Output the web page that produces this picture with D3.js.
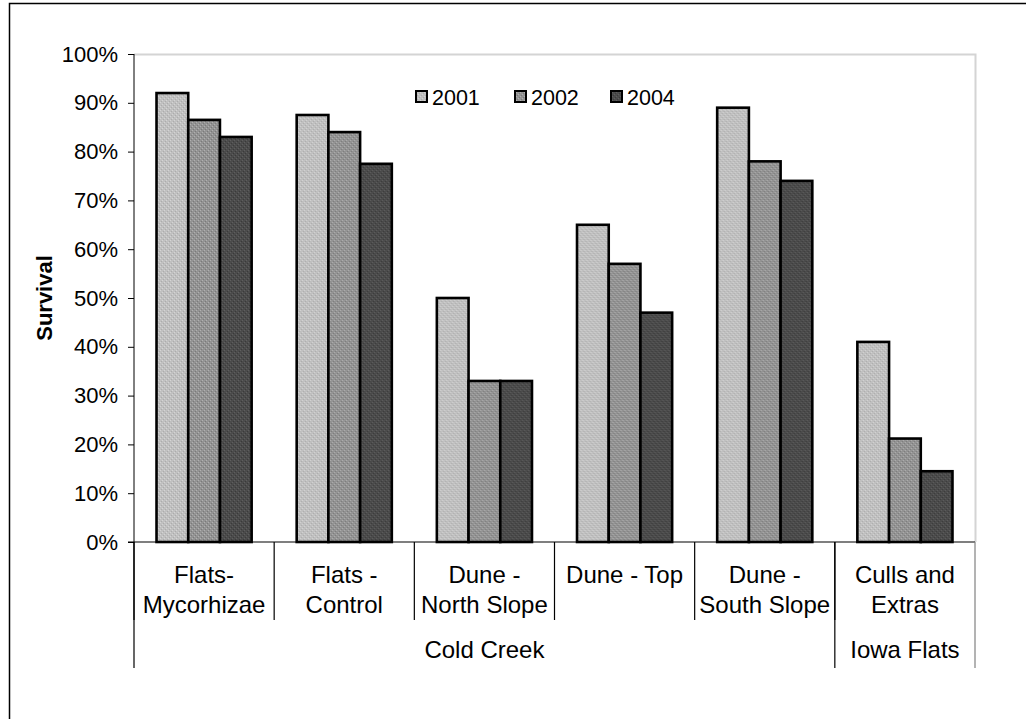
<!DOCTYPE html>
<html>
<head>
<meta charset="utf-8">
<script src="https://cdn.jsdelivr.net/npm/d3@7"></script>
<style>
  body { margin: 0; background: #fff; }
  svg { display: block; font-family: "Liberation Sans", Arial, sans-serif; }
</style>
</head>
<body>
<div id="container"></div>
<script>
// data
var categories = ["Flats-\nMycorhizae", "Flats -\nControl", "Dune -\nNorth Slope", "Dune - Top", "Dune -\nSouth Slope", "Culls and\nExtras"];
var years = ["2001", "2002", "2004"];
var survival2001 = [0.92, 0.875, 0.50, 0.65, 0.89, 0.41];
var survival2002 = [0.865, 0.84, 0.33, 0.57, 0.78, 0.212];
var survival2004 = [0.83, 0.775, 0.33, 0.47, 0.74, 0.145];
var sites = ["Cold Creek", "Iowa Flats"];
var siteSpan = [5, 1]; // number of categories under each site
var yTicks = [0, 0.1, 0.2, 0.3, 0.4, 0.5, 0.6, 0.7, 0.8, 0.9, 1.0];

var seriesValues = [survival2001, survival2002, survival2004];

var W = 1026, H = 719;
var plot = {left: 134, right: 975, top: 54, bottom: 542};

var svg = d3.select("#container").append("svg")
  .attr("width", W).attr("height", H);

// fill patterns (excel-like dotted greys)
var defs = svg.append("defs");
var fills = [
  {id: "p2001", base: "#c0c0c0", dot: "#d4d4d4", dot2: "#acacac"},
  {id: "p2002", base: "#939393", dot: "#b0b0b0", dot2: "#7a7a7a"},
  {id: "p2004", base: "#4b4b4b", dot: "#5e5e5e", dot2: "#3a3a3a"}
];
fills.forEach(function(f) {
  var p = defs.append("pattern").attr("id", f.id)
    .attr("patternUnits", "userSpaceOnUse").attr("width", 4).attr("height", 4);
  p.append("rect").attr("width", 4).attr("height", 4).attr("fill", f.base);
  p.append("rect").attr("x", 0).attr("y", 0).attr("width", 1).attr("height", 1).attr("fill", f.dot);
  p.append("rect").attr("x", 2).attr("y", 2).attr("width", 1).attr("height", 1).attr("fill", f.dot);
  p.append("rect").attr("x", 1).attr("y", 3).attr("width", 1).attr("height", 1).attr("fill", f.dot2);
  p.append("rect").attr("x", 3).attr("y", 1).attr("width", 1).attr("height", 1).attr("fill", f.dot2);
});
var color = d3.scaleOrdinal().domain(years).range(fills.map(function(f) { return "url(#" + f.id + ")"; }));

// outer chart border (only left/top visible)
svg.append("rect")
  .attr("x", 9.5).attr("y", 3.5)
  .attr("width", W + 20).attr("height", H + 20)
  .attr("fill", "none").attr("stroke", "#000").attr("stroke-width", 1.5);

// scales
var x = d3.scaleBand().domain(categories).range([plot.left, plot.right]).padding(0);
var xSub = d3.scaleBand().domain(years).range([0, x.bandwidth()]).paddingInner(0).paddingOuter(0.71);
var y = d3.scaleLinear().domain([0, 1]).range([plot.bottom, plot.top]);

// plot area border (light grey, top & right)
svg.append("path")
  .attr("d", "M" + plot.left + "," + (plot.top + 0.5) + "H" + (plot.right + 0.5) + "V" + plot.bottom)
  .attr("fill", "none").attr("stroke", "#d4d4d4").attr("stroke-width", 2);

// bars
var rows = categories.map(function(c, i) {
  return {cat: c, vals: years.map(function(yr, j) { return {key: yr, value: seriesValues[j][i]}; })};
});
svg.append("g").selectAll("g")
  .data(rows).enter().append("g")
    .attr("transform", function(d) { return "translate(" + x(d.cat) + ",0)"; })
  .selectAll("rect")
  .data(function(d) { return d.vals; })
  .enter().append("rect")
    .attr("x", function(d) { return xSub(d.key); })
    .attr("y", function(d) { return y(d.value); })
    .attr("width", xSub.bandwidth())
    .attr("height", function(d) { return y(0) - y(d.value); })
    .attr("fill", function(d) { return color(d.key); })
    .attr("stroke", "#000").attr("stroke-width", 2.6);

// y axis
var yAxis = svg.append("g")
  .attr("transform", "translate(" + plot.left + ",0)")
  .call(d3.axisLeft(y).tickValues(yTicks).tickFormat(d3.format(".0%")).tickSize(6).tickPadding(10));
yAxis.select(".domain").attr("stroke", "#000").attr("d", "M0," + plot.top + "V" + plot.bottom);
yAxis.selectAll(".tick line").attr("stroke", "#000");
yAxis.selectAll(".tick text")
  .attr("font-family", "Liberation Sans, Arial, sans-serif")
  .attr("font-size", "22px").attr("fill", "#000");

// y axis title
svg.append("text")
  .attr("transform", "translate(52," + ((plot.top + plot.bottom) / 2) + ") rotate(-90)")
  .attr("text-anchor", "middle")
  .style("font-size", "22px").style("font-weight", "bold")
  .text("Survival");

// x axis baseline
svg.append("line")
  .attr("x1", plot.left - 6).attr("x2", plot.right)
  .attr("y1", plot.bottom).attr("y2", plot.bottom)
  .attr("stroke", "#000").attr("stroke-width", 1.2);

// category separators (first level)
var level1Bottom = 620, level2Bottom = 668;
categories.forEach(function(c) {
  svg.append("line")
    .attr("x1", x(c)).attr("x2", x(c))
    .attr("y1", plot.bottom).attr("y2", level1Bottom)
    .attr("stroke", "#000").attr("stroke-width", 1.2);
});

// site separators (second level)
var siteEdges = [0];
siteSpan.forEach(function(n, i) { siteEdges.push(siteEdges[i] + n); });
siteEdges.forEach(function(k) {
  var px = k < categories.length ? x(categories[k]) : plot.right;
  svg.append("line")
    .attr("x1", px).attr("x2", px)
    .attr("y1", plot.bottom).attr("y2", level2Bottom)
    .attr("stroke", k < categories.length ? "#000" : "#808080").attr("stroke-width", 1.2);
});

// category labels
categories.forEach(function(c) {
  var t = svg.append("text")
    .attr("x", x(c) + x.bandwidth() / 2)
    .attr("y", 583)
    .attr("text-anchor", "middle")
    .style("font-size", "24px");
  c.split("\n").forEach(function(line, i) {
    t.append("tspan").attr("x", x(c) + x.bandwidth() / 2).attr("dy", i === 0 ? 0 : 30).text(line);
  });
});

// site labels
sites.forEach(function(s, i) {
  var x0 = x(categories[siteEdges[i]]);
  var x1 = siteEdges[i + 1] < categories.length ? x(categories[siteEdges[i + 1]]) : plot.right;
  svg.append("text")
    .attr("x", (x0 + x1) / 2).attr("y", 658)
    .attr("text-anchor", "middle")
    .style("font-size", "24px")
    .text(s);
});

// legend
var legendX = [416, 515, 611];
var legend = svg.append("g");
years.forEach(function(yr, i) {
  legend.append("rect")
    .attr("x", legendX[i]).attr("y", 91)
    .attr("width", 11).attr("height", 11)
    .attr("fill", color(yr)).attr("stroke", "#000").attr("stroke-width", 2);
  legend.append("text")
    .attr("x", legendX[i] + 16).attr("y", 104.5)
    .style("font-size", "21.5px")
    .text(yr);
});
</script>
</body>
</html>
